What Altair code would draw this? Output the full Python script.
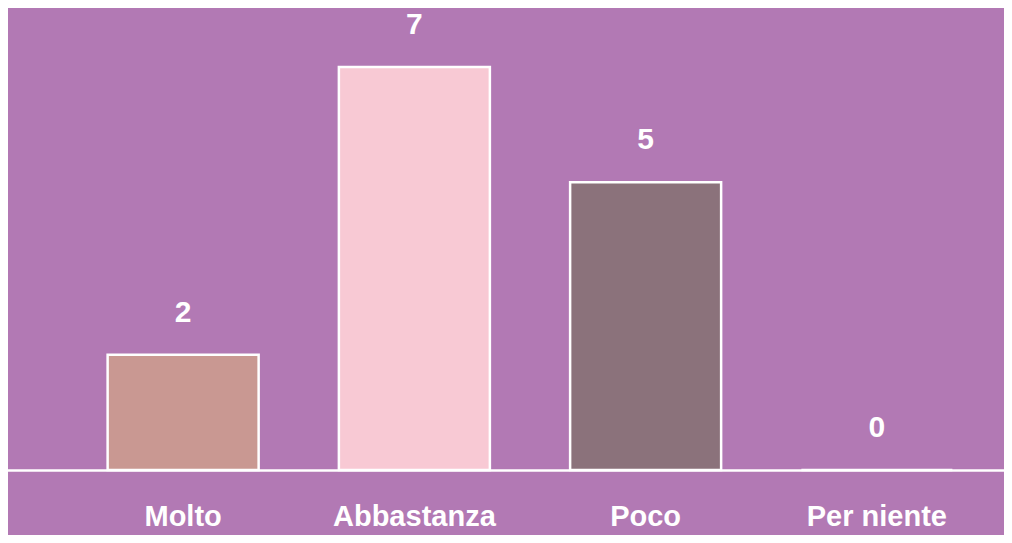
import altair as alt
import pandas as pd

categories = ["Molto", "Abbastanza", "Poco", "Per niente"]
values = [2, 7, 5, 0]
colors = ["#c99892", "#f8c9d4", "#8b727b", "#b279b4"]

df = pd.DataFrame({"cat": categories, "val": values})

x_enc = alt.X(
    "cat:N",
    sort=categories,
    title=None,
    scale=alt.Scale(range=[-18, 1058], paddingInner=0.347, paddingOuter=0.5),
    axis=alt.Axis(
        labelAngle=0,
        labelFont="Liberation Sans",
        labelFontWeight="bold",
        labelFontSize=29,
        labelColor="white",
        labelPadding=55,
        labelBaseline="alphabetic",
        ticks=False,
        domainColor="white",
        domainWidth=2.5,
        grid=False,
    ),
)
y_enc = alt.Y("val:Q", scale=alt.Scale(domain=[0, 8.025], nice=False), axis=None)

bars = alt.Chart(df).mark_bar(stroke="white", strokeWidth=2.5).encode(
    x=x_enc,
    y=y_enc,
    color=alt.Color("cat:N", scale=alt.Scale(domain=categories, range=colors), legend=None),
)

labels = alt.Chart(df).mark_text(
    dy=-33,
    baseline="alphabetic",
    font="Liberation Sans",
    fontWeight="bold",
    fontSize=30,
    color="white",
).encode(x=alt.X("cat:N", sort=categories), y="val:Q", text="val:Q")

chart = (
    alt.layer(bars, labels)
    .properties(
        width=994,
        height=462,
        autosize=alt.AutoSizeParams(type="none"),
        padding={"left": 2, "top": 0, "right": 0, "bottom": 65},
        background="#b279b4",
    )
    .configure_view(stroke=None)
)

chart.save("out.html", embed_options={"renderer": "svg", "actions": False})
